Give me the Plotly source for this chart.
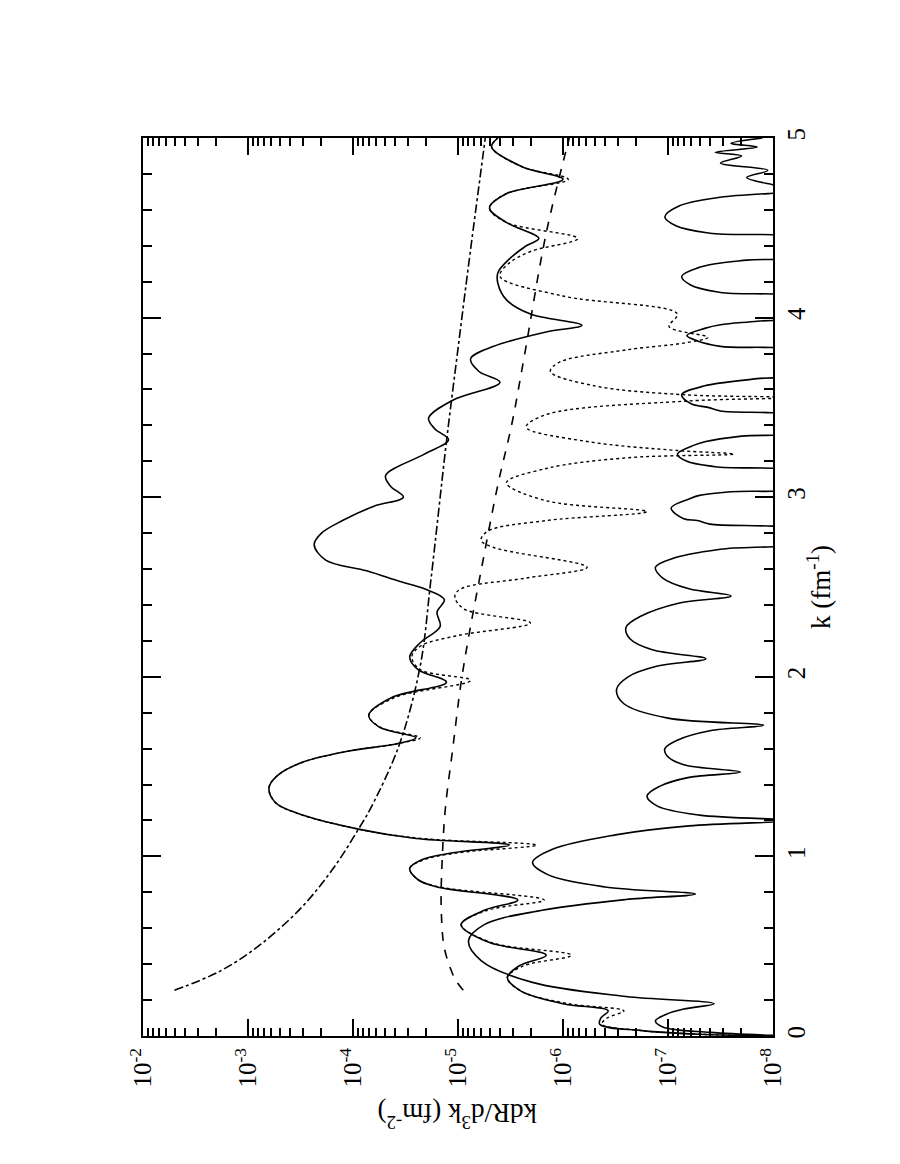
import numpy as np
import plotly.graph_objects as go

# values, stored as log10(kdR/d3k), against k (fm^-1)
full_k = [0.00, 0.01, 0.03, 0.065, 0.10, 0.14, 0.18, 0.25, 0.325, 0.39, 0.45, 0.52, 0.62, 0.70,
          0.757, 0.83, 0.87, 0.933, 0.98, 1.02, 1.063, 1.10, 1.152, 1.24, 1.30, 1.383, 1.45, 1.52,
          1.58, 1.63, 1.66, 1.72, 1.786, 1.885, 1.97, 2.04, 2.11, 2.19, 2.28, 2.36, 2.43, 2.49,
          2.53, 2.59, 2.65, 2.736, 2.80, 2.87, 2.95, 3.00, 3.06, 3.12, 3.24, 3.32, 3.38, 3.44,
          3.54, 3.64, 3.70, 3.77, 3.84, 3.92, 3.957, 4.02, 4.10, 4.19, 4.25, 4.31, 4.40, 4.44,
          4.53, 4.61, 4.69, 4.77, 4.84, 4.95, 5.00]
full_log = [-8.0, -7.3, -6.75, -6.35, -6.36, -6.43, -6.0, -5.6, -5.47, -5.58, -5.84, -5.3, -5.03, -5.25,
            -5.57, -4.8, -4.62, -4.54, -4.65, -4.95, -5.49, -4.6, -4.05, -3.47, -3.26, -3.20, -3.28, -3.5,
            -3.9, -4.44, -4.60, -4.25, -4.15, -4.37, -4.89, -4.62, -4.54, -4.64, -4.83, -4.80, -4.87, -4.68,
            -4.45, -4.13, -3.74, -3.63, -3.7, -3.9, -4.2, -4.48, -4.36, -4.31, -4.68, -4.91, -4.78, -4.72,
            -4.95, -5.40, -5.2, -5.12, -5.34, -5.84, -6.18, -5.69, -5.46, -5.38, -5.38, -5.46, -5.65, -5.77,
            -5.46, -5.30, -5.46, -6.0, -5.61, -5.32, -5.38]

dot_k = [0.00, 0.01, 0.03, 0.065, 0.10, 0.14, 0.18, 0.25, 0.325, 0.39, 0.45, 0.52, 0.62, 0.70,
         0.757, 0.83, 0.87, 0.933, 0.98, 1.02, 1.063, 1.10, 1.152, 1.24, 1.30, 1.383, 1.45, 1.52,
         1.58, 1.63, 1.66, 1.72, 1.786, 1.885, 1.98, 2.04, 2.11, 2.17, 2.23, 2.30, 2.38, 2.45,
         2.49, 2.55, 2.61, 2.72, 2.76, 2.81, 2.87, 2.92, 2.98, 3.08, 3.16, 3.22, 3.24, 3.26,
         3.31, 3.39, 3.46, 3.535, 3.555, 3.57, 3.62, 3.70, 3.75, 3.82, 3.86, 3.89, 3.95, 4.02,
         4.12, 4.23, 4.30, 4.37, 4.44, 4.53, 4.61, 4.69, 4.77, 4.84, 4.95, 5.00]
dot_log = [-8.0, -7.3, -6.75, -6.37, -6.42, -6.58, -6.05, -5.6, -5.47, -5.62, -6.08, -5.32, -5.03, -5.28,
           -5.82, -4.82, -4.62, -4.54, -4.67, -5.0, -5.75, -4.65, -4.05, -3.47, -3.26, -3.20, -3.28, -3.5,
           -3.9, -4.44, -4.64, -4.26, -4.15, -4.40, -5.12, -4.64, -4.56, -4.64, -5.0, -5.69, -5.05, -4.97,
           -5.03, -5.65, -6.23, -5.34, -5.22, -5.28, -5.84, -6.80, -5.84, -5.46, -5.84, -6.62, -7.63, -7.09,
           -6.23, -5.65, -5.84, -7.17, -8.3, -7.17, -6.3, -5.88, -5.96, -6.6, -7.17, -7.38, -7.01, -7.09,
           -6.0, -5.40, -5.48, -5.7, -6.14, -5.46, -5.30, -5.46, -6.05, -5.61, -5.32, -5.38]

low_k = [0.00, 0.02, 0.05, 0.084, 0.12, 0.15, 0.18, 0.22, 0.30, 0.42, 0.53, 0.62, 0.70, 0.76,
         0.79, 0.83, 0.90, 0.967, 1.04, 1.12, 1.17, 1.20, 1.23, 1.28, 1.336, 1.39, 1.44, 1.47,
         1.51, 1.56, 1.60, 1.65, 1.70, 1.73, 1.77, 1.85, 1.93, 2.00, 2.06, 2.10, 2.15, 2.21,
         2.275, 2.34, 2.41, 2.45, 2.49, 2.55, 2.61, 2.66, 2.71, 2.755, 2.81, 2.85, 2.87, 2.88,
         2.94, 2.99, 3.01, 3.03, 3.06, 3.13, 3.17, 3.20, 3.24, 3.29, 3.31, 3.34, 3.37, 3.44,
         3.48, 3.50, 3.52, 3.57, 3.62, 3.66, 3.69, 3.80, 3.84, 3.87, 3.90, 3.94, 3.96, 3.98,
         4.01, 4.10, 4.14, 4.18, 4.23, 4.28, 4.30, 4.32, 4.35, 4.43, 4.47, 4.51, 4.56, 4.62,
         4.67, 4.71, 4.74, 4.78, 4.82, 4.86, 4.90, 4.92, 4.95, 4.97, 5.00]
low_log = [-8.2, -7.4, -6.95, -6.88, -6.98, -7.15, -7.44, -6.6, -5.7, -5.22, -5.10, -5.25, -5.8, -6.6,
           -7.26, -6.4, -5.85, -5.71, -5.9, -6.5, -7.2, -8.2, -7.3, -6.9, -6.80, -6.92, -7.2, -7.69,
           -7.15, -6.99, -6.97, -7.1, -7.4, -7.91, -7.0, -6.58, -6.51, -6.62, -6.9, -7.36, -6.85, -6.64,
           -6.60, -6.75, -7.1, -7.60, -7.2, -6.95, -6.88, -7.05, -7.5, -8.3, -8.3, -7.4, -7.28, -7.15,
           -7.03, -7.2, -7.3, -7.6, -8.3, -8.3, -7.45, -7.18, -7.09, -7.25, -7.36, -7.7, -8.3, -8.3,
           -7.5, -7.38, -7.22, -7.13, -7.35, -7.85, -8.3, -8.3, -7.5, -7.28, -7.18, -7.35, -7.5, -7.85,
           -8.3, -8.3, -7.5, -7.22, -7.13, -7.3, -7.45, -7.75, -8.3, -8.3, -7.4, -7.08, -6.97, -7.1,
           -7.5, -8.3, -8.0, -7.75, -7.95, -7.5, -7.7, -7.45, -7.85, -7.6, -7.9]

dash_k = [0.255, 0.30, 0.344, 0.49, 0.716, 0.99, 1.27, 1.6, 1.97, 2.25, 2.53, 3.07, 3.4, 3.78, 4.47, 5.0]
dash_log = [-5.05, -4.99, -4.95, -4.87, -4.84, -4.85, -4.88, -4.95, -5.03, -5.11, -5.20, -5.38, -5.51,
            -5.63, -5.84, -6.06]

dashdot_k = [0.255, 0.36, 0.51, 0.716, 0.94, 1.15, 1.27, 1.62, 2.06, 2.53, 3.31, 3.78, 4.29, 5.0]
dashdot_log = [-2.30, -2.73, -3.12, -3.51, -3.82, -4.05, -4.17, -4.44, -4.64, -4.74, -4.89, -4.99,
               -5.10, -5.26]

decades = [-2, -3, -4, -5, -6, -7, -8]
k_ticks = [0, 1, 2, 3, 4, 5]

serif = "Liberation Serif"

fig = go.Figure()

def add_curve(k, logv, dash, width=1.6):
    fig.add_trace(go.Scatter(
        x=10.0 ** np.array(logv), y=k, mode="lines",
        line=dict(color="black", width=width, dash=dash, shape="spline", smoothing=1.0)
    ))

add_curve(dashdot_k, dashdot_log, "dashdot")
add_curve(dash_k, dash_log, "dash")
add_curve(dot_k, dot_log, "dot", width=1.4)
add_curve(full_k, full_log, "solid")
add_curve(low_k, low_log, "solid")

minor_vals = [m * 10.0 ** e for e in range(-8, -2) for m in range(2, 10)]

fig.update_xaxes(
    type="log", range=[-2, -8],
    tickvals=[10.0 ** d for d in decades],
    ticktext=["10<sup>%d</sup>" % d for d in decades],
    tickangle=-90,
    ticks="inside", ticklen=17, tickwidth=1.5, tickcolor="black",
    minor=dict(tickvals=minor_vals, ticks="inside", ticklen=8, tickwidth=1.5,
               tickcolor="black", showgrid=False),
    showline=True, linewidth=2, linecolor="black", mirror="ticks",
    showgrid=False, zeroline=False,
    tickfont=dict(family=serif, size=25, color="black"),
)
fig.update_yaxes(
    range=[0, 5], side="right",
    tickvals=k_ticks, ticktext=[str(t) for t in k_ticks],
    tickangle=-90,
    ticks="inside", ticklen=18, tickwidth=1.5, tickcolor="black",
    minor=dict(dtick=0.2, ticks="inside", ticklen=9, tickwidth=1.5,
               tickcolor="black", showgrid=False),
    showline=True, linewidth=2, linecolor="black", mirror="ticks",
    showgrid=False, zeroline=False,
    tickfont=dict(family=serif, size=25, color="black"),
)

fig.update_layout(
    width=900, height=1164,
    margin=dict(l=135, r=135, t=130, b=136),
    plot_bgcolor="white", paper_bgcolor="white",
    showlegend=False,
    font=dict(family=serif, color="black"),
    annotations=[
        dict(text="kdR/d<sup>3</sup>k (fm<sup>-2</sup>)", xref="paper", yref="paper",
             x=0.5, y=-0.11, showarrow=False, textangle=180,
             font=dict(family=serif, size=27, color="black")),
        dict(text="k (fm<sup>-1</sup>)", xref="paper", yref="paper",
             x=1.103, y=0.5, showarrow=False, textangle=-90,
             font=dict(family=serif, size=27, color="black")),
    ],
)

fig.write_html("out.html")
